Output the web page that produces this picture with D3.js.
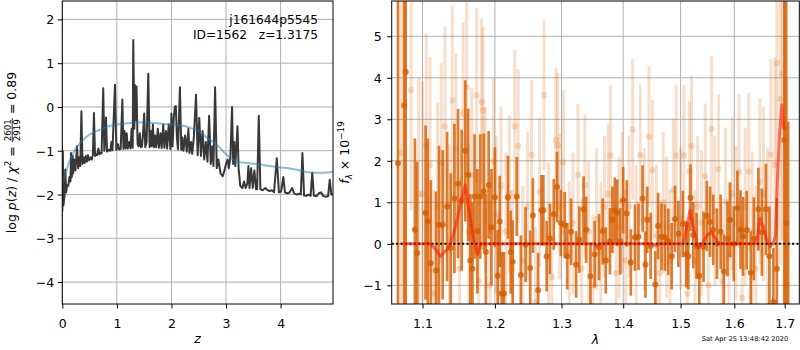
<!DOCTYPE html>
<html><head><meta charset="utf-8">
<script src="https://cdn.jsdelivr.net/npm/d3@7"></script>
<style>
body{margin:0;background:#fff}
svg{font-family:"DejaVu Sans",sans-serif}
text{white-space:pre}
</style></head><body><svg id="c" width="800" height="350"></svg>
<script>
// ---------- DATA ----------
const pzTicksX = [0,1,2,3,4];
const pzTicksY = [-4,-3,-2,-1,0,1,2];
const specTicksX = [1.1,1.2,1.3,1.4,1.5,1.6,1.7];
const specTicksY = [-1,0,1,2,3,4,5];

// log p(z) curve: [z, log p]
const pzCurve = [
[0.00,-2.38],[0.01,-1.01],[0.02,-2.25],[0.04,-2.05],[0.055,-1.43],[0.07,-1.95],[0.09,-1.78],[0.11,-1.8],[0.13,-1.6],[0.15,-1.7],[0.16,-1.05],[0.175,-1.6],[0.19,-1.12],[0.2,-1.52],[0.22,-1.2],[0.24,-1.45],[0.27,-0.9],[0.29,-1.4],[0.31,-1.15],[0.33,-1.35],[0.35,-0.1],[0.37,-1.3],[0.39,-1.15],[0.41,-1.28],[0.43,-1.12],[0.45,-1.25],[0.47,-1.1],[0.49,-1.22],[0.52,-1.15],[0.54,-1.2],[0.56,-1.1],[0.58,-0.14],[0.6,-1.12],[0.62,-1.08],[0.64,-1.1],[0.66,-0.95],[0.68,-1.08],[0.7,-1.05],[0.72,-1.06],[0.75,0.43],[0.77,-1.0],[0.79,-0.7],[0.8,-0.24],[0.82,-1.02],[0.85,-0.98],[0.88,-1.0],[0.9,-0.8],[0.92,-0.99],[0.965,0.51],[0.99,-0.98],[1.02,-0.85],[1.04,-0.97],[1.07,-0.96],[1.1,0.17],[1.12,-0.96],[1.14,-0.55],[1.16,-0.95],[1.18,-0.6],[1.2,-0.95],[1.23,-0.8],[1.25,-0.95],[1.27,-0.5],[1.29,-0.93],[1.30,1.53],[1.32,-0.5],[1.33,0.5],[1.345,-0.3],[1.36,0.47],[1.38,-0.85],[1.4,-0.9],[1.42,-0.6],[1.44,-0.92],[1.46,-0.9],[1.48,-0.6],[1.5,-0.15],[1.52,-0.92],[1.545,-0.8],[1.575,0.76],[1.6,-0.92],[1.62,-0.55],[1.64,-0.9],[1.66,-0.4],[1.68,-0.92],[1.7,-0.65],[1.72,-0.92],[1.75,-0.5],[1.77,-0.93],[1.8,-0.6],[1.82,-0.94],[1.85,-0.4],[1.87,-0.93],[1.9,-0.55],[1.92,-0.95],[1.95,-0.4],[1.98,-0.96],[2.0,-0.15],[2.02,-0.9],[2.04,-0.3],[2.06,0.0],[2.08,0.02],[2.1,-0.7],[2.12,-0.97],[2.155,0.45],[2.18,-0.98],[2.2,-0.7],[2.22,-1.0],[2.25,-0.65],[2.28,-1.02],[2.31,-0.5],[2.33,-1.05],[2.36,-0.8],[2.38,-1.07],[2.41,-0.7],[2.45,0.28],[2.48,-1.1],[2.51,-0.25],[2.54,-1.12],[2.57,-0.55],[2.6,-1.2],[2.63,-0.8],[2.66,-1.25],[2.69,-0.2],[2.72,-1.3],[2.75,-0.9],[2.77,-1.35],[2.80,0.45],[2.83,-1.4],[2.86,-1.2],[2.9,-1.52],[2.94,-1.58],[2.97,-1.45],[3.0,-1.3],[3.03,-1.2],[3.05,-1.4],[3.08,-1.15],[3.11,0.0],[3.13,-1.3],[3.15,-0.8],[3.17,-1.35],[3.21,-0.44],[3.23,-1.4],[3.26,-1.8],[3.3,-1.85],[3.33,-1.7],[3.36,-1.85],[3.39,-1.75],[3.41,-1.35],[3.43,-1.85],[3.46,-1.4],[3.49,-1.85],[3.52,-1.45],[3.55,-1.88],[3.57,-1.88],[3.60,-0.2],[3.63,-1.88],[3.67,-1.9],[3.72,-1.85],[3.76,-1.9],[3.8,-1.92],[3.84,-1.9],[3.88,-1.95],[3.93,-1.17],[3.97,-1.95],[4.01,-1.93],[4.05,-1.6],[4.08,-1.95],[4.12,-1.97],[4.16,-1.96],[4.21,-1.85],[4.25,-1.98],[4.3,-2.0],[4.34,-1.98],[4.37,-2.0],[4.40,-1.05],[4.43,-2.02],[4.47,-2.03],[4.51,-2.0],[4.55,-2.03],[4.58,-1.5],[4.61,-2.03],[4.66,-2.04],[4.7,-1.97],[4.74,-1.95],[4.78,-2.03],[4.83,-2.05],[4.87,-2.04],[4.9,-1.66],[4.93,-2.0],[4.96,-2.0]
];
// smooth prior-like curve: [z, value]
const pzSmooth = [
[0.0,-1.8],[0.1,-1.35],[0.17,-1.13],[0.25,-0.95],[0.385,-0.75],[0.5,-0.63],[0.69,-0.52],[0.85,-0.44],[0.99,-0.40],[1.2,-0.37],[1.4,-0.35],[1.6,-0.36],[1.8,-0.38],[2.0,-0.40],[2.22,-0.43],[2.4,-0.5],[2.52,-0.56],[2.65,-0.7],[2.83,-0.86],[3.0,-1.08],[3.13,-1.2],[3.25,-1.26],[3.38,-1.28],[3.6,-1.31],[3.8,-1.35],[4.0,-1.38],[4.2,-1.41],[4.35,-1.45],[4.5,-1.49],[4.6,-1.5],[4.8,-1.5],[4.96,-1.48]
];

// binned spectrum: [lambda, flux, err]
const specBinned = [
[1.068,1.94,8],[1.076,3.33,8],[1.078,4.14,8],
[1.090,0.34,2.2],[1.093,-0.22,2.2],[1.104,0.75,2.1],[1.107,0.54,2.0],[1.111,-0.47,2.0],[1.118,-0.64,1.9],[1.122,0.46,1.9],[1.127,0.46,1.8],[1.133,0.9,1.8],[1.138,-0.1,1.8],[1.143,1.09,1.8],[1.148,1.45,1.8],[1.153,1.05,1.7],[1.158,2.24,1.7],[1.162,1.66,1.6],[1.165,-0.4,1.6],[1.168,-0.6,1.6],[1.171,1.14,1.5],[1.175,0.3,1.5],[1.179,1.14,1.5],[1.184,1.26,1.4],[1.187,-0.2,1.4],[1.191,1.42,1.3],[1.195,0.4,1.4],[1.200,1.12,1.2],[1.204,-0.77,1.1],[1.207,0.54,1.1],[1.210,-1.2,1.0],[1.213,-1.2,1.0],[1.219,1.12,1.0],[1.223,-0.2,1.0],[1.226,-0.43,1.0],[1.232,1.14,0.95],[1.238,-0.75,0.95],[1.245,-0.02,0.9],[1.252,-0.58,0.9],[1.256,0.68,0.9],[1.264,-1.12,0.9],[1.269,0.81,0.85],[1.272,0.81,0.85],[1.277,-0.3,0.85],[1.282,0.12,0.85],[1.288,0.71,0.85],[1.293,1.37,0.85],[1.299,0.5,0.8],[1.305,0.45,0.8],[1.309,-0.3,0.8],[1.315,0.29,0.8],[1.323,-0.5,0.8],[1.328,0.1,0.8],[1.335,0.83,0.8],[1.339,0.34,0.8],[1.346,-0.78,0.8],[1.353,-0.25,0.8],[1.360,-0.08,0.8],[1.366,0.3,0.8],[1.371,-0.4,0.8],[1.378,0.06,0.8],[1.382,0.58,0.8],[1.386,0.8,0.8],[1.390,0.75,0.8],[1.395,0.06,0.8],[1.400,1.05,0.8],[1.406,0.73,0.8],[1.413,-0.45,0.8],[1.420,0.15,0.8],[1.426,0.17,0.8],[1.433,1.09,0.8],[1.438,-0.5,0.8],[1.441,0.58,0.8],[1.447,-0.05,0.8],[1.455,-0.98,0.8],[1.460,0.43,0.8],[1.466,0.17,0.8],[1.472,0.15,0.8],[1.478,0.05,0.8],[1.484,-0.3,0.8],[1.490,0.6,0.8],[1.496,0.24,0.8],[1.504,0.48,0.8],[1.510,-0.25,0.8],[1.514,-0.3,0.8],[1.518,1.11,0.8],[1.523,0.21,0.8],[1.529,-0.05,0.8],[1.534,-0.77,0.8],[1.542,-0.07,0.85],[1.548,0.67,0.85],[1.554,0.53,0.85],[1.560,0.34,0.85],[1.567,0.0,0.85],[1.574,0.29,0.9],[1.580,-0.67,0.9],[1.587,0.12,0.9],[1.592,0.58,0.9],[1.599,0.0,0.9],[1.606,0.86,0.9],[1.612,0.34,0.95],[1.617,0.18,0.95],[1.624,0.33,0.95],[1.632,-0.7,1.0],[1.638,0.12,1.0],[1.647,0.83,1.0],[1.654,0.28,1.05],[1.662,0.83,1.1],[1.669,-0.3,1.2],[1.677,-1.4,1.3],[1.684,-0.6,1.7],[1.699,2.5,9],[1.703,0.5,9],[1.707,-1.8,4.74]
];
// unbinned spectrum: [lambda, flux, err]
const specRaw = [
[1.072,2.2,5],[1.085,3.7,2.9],[1.095,1.2,2.8],[1.100,1.2,2.7],[1.105,2.37,2.7],[1.110,1.9,2.6],[1.115,-1.2,2.5],[1.120,0.9,2.5],[1.125,1.95,2.4],[1.130,2.83,2.4],[1.136,0.1,2.3],[1.140,3.45,2.3],[1.145,2.29,2.3],[1.150,-0.6,2.2],[1.155,3.14,2.2],[1.160,3.77,2.1],[1.163,0.3,2.1],[1.167,1.66,2.1],[1.174,3.58,2.1],[1.177,-0.9,2.1],[1.181,3.42,2.0],[1.183,3.22,2.0],[1.186,1.3,2.0],[1.193,-1.0,2.0],[1.198,2.0,2.0],[1.202,0.7,1.9],[1.206,-1.2,1.9],[1.209,1.4,1.9],[1.216,0.3,1.9],[1.221,1.2,1.9],[1.225,-0.6,1.9],[1.229,2.83,1.85],[1.234,2.36,1.85],[1.241,-0.4,1.8],[1.248,0.9,1.8],[1.254,2.14,1.8],[1.260,-1.4,1.8],[1.266,1.25,1.8],[1.273,3.58,1.8],[1.280,0.2,1.75],[1.285,-0.8,1.75],[1.291,2.5,1.75],[1.294,2.37,1.75],[1.297,0.9,1.75],[1.303,1.96,1.75],[1.312,-0.2,1.7],[1.318,0.5,1.7],[1.326,1.66,1.7],[1.332,-0.6,1.7],[1.337,1.42,1.7],[1.343,0.3,1.7],[1.350,-1.0,1.7],[1.356,0.6,1.7],[1.363,-0.2,1.7],[1.369,0.9,1.7],[1.375,1.2,1.7],[1.379,2.13,1.7],[1.388,-0.7,1.7],[1.393,0.4,1.7],[1.398,1.0,1.7],[1.404,-0.4,1.7],[1.410,0.9,1.7],[1.416,2.75,1.7],[1.422,0.2,1.7],[1.429,2.14,1.7],[1.436,0.6,1.7],[1.444,2.58,1.7],[1.450,1.77,1.7],[1.457,0.2,1.7],[1.463,-0.7,1.7],[1.469,1.0,1.7],[1.475,0.4,1.7],[1.481,-0.4,1.7],[1.487,1.3,1.7],[1.492,2.13,1.7],[1.500,0.6,1.7],[1.506,2.13,1.7],[1.512,-1.2,1.7],[1.516,1.75,1.7],[1.520,2.35,1.7],[1.526,-0.4,1.7],[1.531,0.9,1.7],[1.538,0.5,1.75],[1.545,1.63,1.75],[1.551,-1.0,1.75],[1.557,2.77,1.75],[1.563,0.8,1.8],[1.570,1.8,1.8],[1.577,-0.9,1.8],[1.583,1.0,1.8],[1.590,-0.3,1.8],[1.596,1.2,1.85],[1.603,0.5,1.85],[1.609,1.74,1.85],[1.615,-1.3,1.9],[1.621,0.9,1.9],[1.628,1.74,1.9],[1.635,0.3,1.9],[1.642,-0.6,2.0],[1.650,1.5,2.0],[1.657,1.2,2.1],[1.665,0.1,2.2],[1.672,2.15,2.3],[1.680,1.9,2.6],[1.684,4.35,4],[1.691,3.49,4],[1.695,4.1,4],[1.704,-1.0,5]
];
// model: [lambda, flux]
const specModel = [
[1.073,0],[1.110,0],[1.116,-0.1],[1.124,-0.3],[1.132,-0.15],[1.138,0],[1.145,0.45],[1.152,1.0],[1.158,1.42],[1.164,0.7],[1.170,0.1],[1.175,-0.25],[1.180,0],[1.350,0],[1.356,-0.05],[1.362,0],[1.450,0],[1.456,-0.05],[1.462,0],[1.505,0],[1.511,0.4],[1.517,0.8],[1.524,0.35],[1.532,-0.1],[1.540,0.0],[1.548,0.2],[1.556,0.28],[1.563,0.15],[1.570,0],[1.643,0],[1.650,0.62],[1.657,0.4],[1.663,0.1],[1.670,-0.06],[1.676,0],[1.681,0.2],[1.685,1.5],[1.689,2.6],[1.694,3.35],[1.698,2.75]
];
const titleLines = ["j161644p5545", "ID=1562   z=1.3175"];
const stamp = "Sat Apr 25 13:48:42 2020";

// ---------- DRAW ----------
const svg = d3.select('#c');
const FS = 12.5;
const gridCol = '#b0b0b0';
const orange = '#d55e00';

function panel(x, y, xt, yt, xfmt, yfmt, id, ypad) {
  const [x0,x1] = x.range(), [y0,y1] = y.range();
  const g = svg.append('g');
  g.append('clipPath').attr('id', id).append('rect')
    .attr('x', x0).attr('y', y1).attr('width', x1-x0).attr('height', y0-y1);
  g.selectAll(null).data(xt).join('line')
    .attr('x1', d=>x(d)).attr('x2', d=>x(d)).attr('y1', y1).attr('y2', y0)
    .attr('stroke', gridCol).attr('stroke-width', 1);
  g.selectAll(null).data(yt).join('line')
    .attr('y1', d=>y(d)).attr('y2', d=>y(d)).attr('x1', x0).attr('x2', x1)
    .attr('stroke', gridCol).attr('stroke-width', 1);
  const plot = g.append('g').attr('clip-path', `url(#${id})`);
  const ax = g.append('g').attr('transform', `translate(0,${y0})`)
    .call(d3.axisBottom(x).tickValues(xt).tickFormat(xfmt).tickSize(4.5).tickPadding(10.5));
  const ay = g.append('g').attr('transform', `translate(${x0},0)`)
    .call(d3.axisLeft(y).tickValues(yt).tickFormat(yfmt).tickSize(4.5).tickPadding(ypad));
  [ax, ay].forEach(a => {
    a.select('.domain').remove();
    a.attr('font-size', null).attr('font-family', null);
    a.selectAll('text').style('font-size', FS+'px').attr('fill', '#000');
    a.selectAll('line').attr('stroke', '#000').attr('stroke-width', 1);
  });
  ay.selectAll('text').attr('dy', '0.36em');
  const frame = g.append('rect').attr('x', x0).attr('y', y1).attr('width', x1-x0).attr('height', y0-y1)
    .attr('fill', 'none').attr('stroke', '#000').attr('stroke-width', 1);
  return {g, plot, frame};
}

// Left panel
const xL = d3.scaleLinear().domain([0, 4.96]).range([62.3, 333]);
const yL = d3.scaleLinear().domain([-4.5, 2.42]).range([304, 1]);
const L = panel(xL, yL, pzTicksX, pzTicksY, d3.format('d'), d3.format('d'), 'clipL', 3.5);
const lineL = d3.line().x(d=>xL(d[0])).y(d=>yL(d[1]));
L.plot.append('path').datum(pzCurve).attr('d', lineL).attr('fill','none')
  .attr('stroke', '#383838').attr('stroke-width', 2).attr('stroke-linejoin','round');
L.plot.append('path').datum(pzSmooth).attr('d', d3.line().curve(d3.curveMonotoneX).x(d=>xL(d[0])).y(d=>yL(d[1])))
  .attr('fill','none').attr('stroke', '#1f77b4').attr('stroke-opacity', 0.5).attr('stroke-width', 2);
titleLines.forEach((t,i) => {
  svg.append('text').attr('x', 318).attr('y', 24 + i*14.5).attr('text-anchor','end')
    .attr('xml:space','preserve').style('font-size', '12.2px').text(t);
});

// Right panel
const xR = d3.scaleLog().domain([1.06, 1.73]).range([391.7, 799.3]);
const yR = d3.scaleLinear().domain([-1.45, 5.85]).range([304, 1]);
const R = panel(xR, yR, specTicksX, specTicksY, d3.format('.1f'), d3.format('d'), 'clipR', 5.5);

function errs(data, op, sw, r) {
  const gg = R.plot.append('g');
  gg.selectAll(null).data(data).join('line')
    .attr('x1', d=>xR(d[0])).attr('x2', d=>xR(d[0]))
    .attr('y1', d=>yR(d[1]-d[2])).attr('y2', d=>yR(d[1]+d[2]))
    .attr('stroke', orange).attr('stroke-opacity', op).attr('stroke-width', sw);
  gg.selectAll(null).data(data).join('circle')
    .attr('cx', d=>xR(d[0])).attr('cy', d=>yR(d[1])).attr('r', r)
    .attr('fill', orange).attr('fill-opacity', op);
}
errs(specRaw, 0.2, 3.0, 3.2);
errs(specBinned, 0.8, 2.7, 3.0);
R.plot.append('line').attr('x1', 391.7).attr('x2', 799.3).attr('y1', yR(0)).attr('y2', yR(0))
  .attr('stroke', '#000').attr('stroke-width', 2).attr('stroke-dasharray', '2,2.4');
R.plot.append('path').datum(specModel).attr('d', d3.line().x(d=>xR(d[0])).y(d=>yR(d[1])))
  .attr('fill','none').attr('stroke', '#ff1a00').attr('stroke-opacity', 0.6).attr('stroke-width', 3)
  .attr('stroke-linejoin','round');
R.frame.raise();

// Math labels
function buildMath(parent, parts, fs) {
  const g = parent.append('g');
  let x = 0;
  parts.forEach(p => {
    if (p.frac) {
      const s = fs*0.7;
      const n = g.append('text').style('font-size', s+'px').attr('text-anchor','middle').text(p.frac[0]);
      const d = g.append('text').style('font-size', s+'px').attr('text-anchor','middle').text(p.frac[1]);
      const w = Math.max(n.node().getComputedTextLength(), d.node().getComputedTextLength()) + 2;
      const cx = x + w/2, axy = -fs*0.3;
      n.attr('x', cx).attr('y', axy - 1.6);
      d.attr('x', cx).attr('y', axy + 1.4 + s*0.73);
      g.append('line').attr('x1', x).attr('x2', x+w).attr('y1', axy).attr('y2', axy)
        .attr('stroke', '#000').attr('stroke-width', 0.8);
      x += w;
    } else {
      const t = g.append('text').attr('x', x).attr('y', p.dy||0).attr('xml:space','preserve')
        .style('font-size', (fs*(p.s||1))+'px').style('font-style', p.i?'italic':'normal').text(p.t);
      x += t.node().getComputedTextLength();
    }
  });
  g.attr('transform', `translate(${-x/2},0)`);
  return g;
}
const yLabL = svg.append('g').attr('transform', 'translate(16,152.5) rotate(-90)');
buildMath(yLabL, [{t:'log '},{t:'p',i:1},{t:'('},{t:'z',i:1},{t:') / '},{t:'χ',i:1},{t:'2',s:0.7,dy:-5},
  {t:' = '},{frac:['2601','2919']},{t:' = 0.89'}], FS);
const yLabR = svg.append('g').attr('transform', 'translate(349,152.5) rotate(-90)');
buildMath(yLabR, [{t:'f',i:1},{t:'λ',i:1,s:0.7,dy:3},{t:' × 10'},{t:'−19',s:0.7,dy:-5}], FS);

svg.append('text').attr('x', (62.3+333)/2).attr('y', 343).attr('text-anchor','middle')
  .style('font-size', FS+'px').style('font-style','italic').text('z');
svg.append('text').attr('x', (391.7+799.3)/2).attr('y', 344).attr('text-anchor','middle')
  .style('font-size', FS+'px').style('font-style','italic').text('λ');
svg.append('text').attr('x', 788.3).attr('y', 341).attr('text-anchor','end')
  .style('font-size', '6.7px').text(stamp);
</script></body></html>
